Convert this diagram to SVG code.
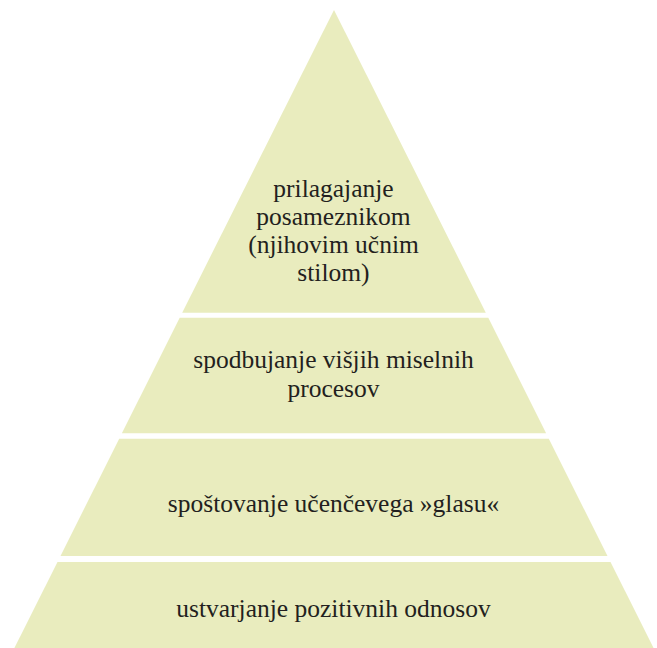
<svg xmlns="http://www.w3.org/2000/svg" width="657" height="648" viewBox="0 0 657 648">
<style>
.band{fill:#E9ECBE;}
.t{font-family:"Liberation Serif","Times New Roman",serif;font-size:25.5px;fill:#231F20;text-anchor:middle;}
</style>
<rect width="657" height="648" fill="#FFFFFF"/>
<g id="level4">
<polygon class="band" points="334,10 485.8,312.7 182.2,312.7"/>
<text class="t" x="333.5" y="197">prilagajanje</text>
<text class="t" x="333.5" y="225">posameznikom</text>
<text class="t" x="333.5" y="253">(njihovim učnim</text>
<text class="t" x="333.5" y="281">stilom)</text>
</g>
<g id="level3">
<polygon class="band" points="179.7,317.7 488.3,317.7 546.1,433.3 121.9,433.3"/>
<text class="t" x="333.5" y="368">spodbujanje višjih miselnih</text>
<text class="t" x="333.5" y="397">procesov</text>
</g>
<g id="level2">
<polygon class="band" points="119.2,438.7 548.8,438.7 607.5,556 60.5,556"/>
<text class="t" x="333.5" y="512">spoštovanje učenčevega »glasu«</text>
</g>
<g id="level1">
<polygon class="band" points="57.5,562 610.5,562 653.6,648 14.4,648"/>
<text class="t" x="333.5" y="617">ustvarjanje pozitivnih odnosov</text>
</g>
<g id="connectors"></g>
</svg>
